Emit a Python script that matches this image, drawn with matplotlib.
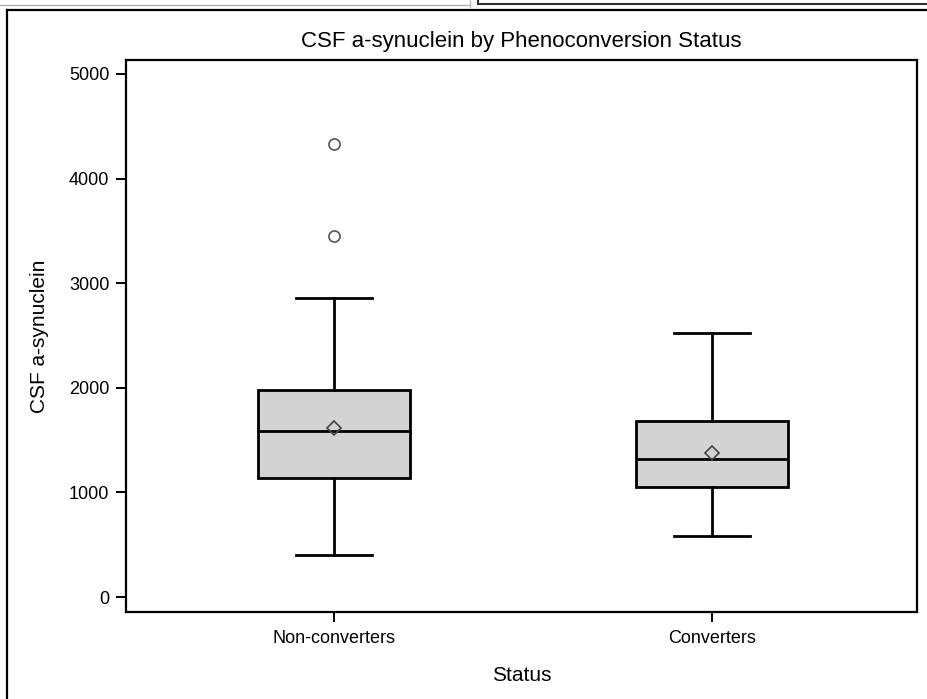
import matplotlib.pyplot as plt
from matplotlib.lines import Line2D

plt.rcParams["font.family"] = ["Liberation Sans", "DejaVu Sans"]

# summary statistics per group
groups = ["Non-converters", "Converters"]
whisker_low = [402, 583]
q1 = [1138, 1052]
median = [1587, 1319]
q3 = [1979, 1683]
whisker_high = [2859, 2524]
means = [1616, 1377]
outliers = [[3451, 4331], []]

y_ticks = [0, 1000, 2000, 3000, 4000, 5000]

stats = []
for i, name in enumerate(groups):
    stats.append(
        {
            "label": name,
            "whislo": whisker_low[i],
            "q1": q1[i],
            "med": median[i],
            "q3": q3[i],
            "whishi": whisker_high[i],
            "mean": means[i],
            "fliers": outliers[i],
        }
    )

fig = plt.figure(figsize=(9.27, 6.99), dpi=100)
ax = fig.add_axes([0.1359, 0.1245, 0.8533, 0.7897])

ax.bxp(
    stats,
    positions=[1, 2],
    widths=0.40,
    patch_artist=True,
    showmeans=True,
    boxprops=dict(facecolor="#d3d3d3", edgecolor="black", linewidth=2),
    medianprops=dict(color="black", linewidth=2),
    whiskerprops=dict(color="black", linewidth=2),
    capprops=dict(color="black", linewidth=2),
    capwidths=0.20,
    meanprops=dict(
        marker="D", markerfacecolor="none", markeredgecolor="#444444",
        markersize=7, markeredgewidth=1.2,
    ),
    flierprops=dict(
        marker="o", markerfacecolor="none", markeredgecolor="#555555",
        markersize=8, markeredgewidth=1.2,
    ),
)

ax.set_xlim(0.45, 2.542)
ax.set_ylim(-143, 5134)
ax.set_yticks(y_ticks)
ax.set_xticks([1, 2])
ax.set_xticklabels(groups)

for s in ax.spines.values():
    s.set_linewidth(1.6)
ax.tick_params(direction="out", length=7, width=1.4, labelsize=13, pad=5)
ax.tick_params(axis="x", pad=6)

ax.set_title("CSF a-synuclein by Phenoconversion Status", fontsize=16, pad=9)
ax.set_xlabel("Status", fontsize=15, labelpad=14)
ax.set_ylabel("CSF a-synuclein", fontsize=15, labelpad=14)

# window frame lines around the plot
W, H = 927, 699


def fline(x0, y0, x1, y1, color="black", lw=2.0):
    fig.add_artist(
        Line2D([x0 / W, x1 / W], [1 - y0 / H, 1 - y1 / H],
               transform=fig.transFigure, color=color, linewidth=lw)
    )


fline(0, 4.5, 470, 4.5, color="#b0b0b0", lw=1.0)
fline(470, 0, 470, 7, color="#c0c0c0", lw=1.0)
fline(478, 4, 927, 4, color="#333333", lw=1.5)
fline(478, 0, 478, 4, color="#333333", lw=1.5)
fline(7.5, 10, 927, 10, color="black", lw=1.6)
fline(7.5, 10, 7.5, 699, color="black", lw=1.6)

fig.savefig("out.png", dpi=100)
